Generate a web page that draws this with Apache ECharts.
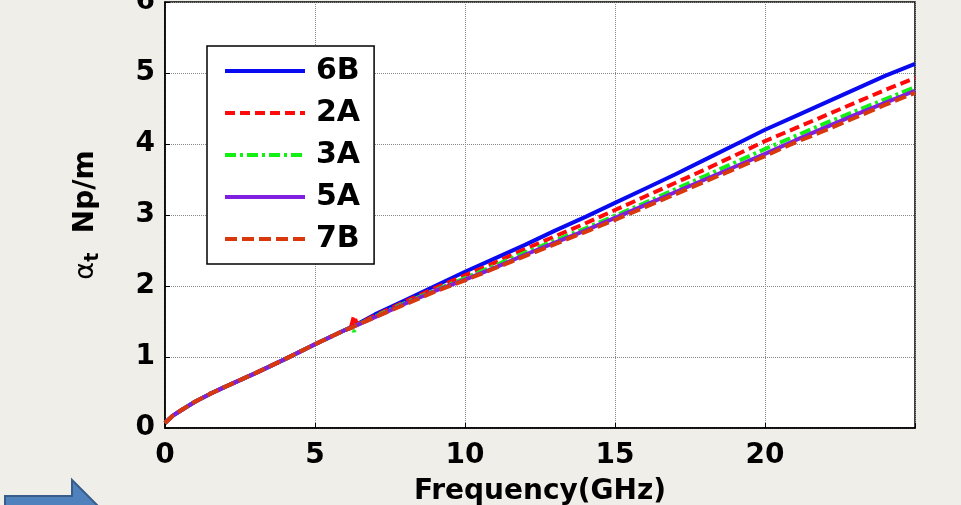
<!DOCTYPE html>
<html>
<head>
<meta charset="utf-8">
<script src="https://cdn.jsdelivr.net/npm/echarts@6/dist/echarts.min.js"></script>
<style>
  html, body { margin: 0; padding: 0; background: #efeee9; }
  #chart { width: 961px; height: 505px; }
</style>
</head>
<body>
<div id="chart"></div>
<script>
  // frequency points (GHz)
  var freq = [0, 0.25, 0.5, 1, 1.5, 2, 3, 4, 5, 6, 6.2, 6.3, 6.4, 7, 8, 9, 10, 11, 12, 13, 14, 15, 16, 17, 18, 19, 20, 21, 22, 23, 24, 25];
  // attenuation alpha_t (Np/m)
  var s6B = [0.07, 0.17, 0.24, 0.37, 0.48, 0.58, 0.77, 0.97, 1.18, 1.38, 1.42, 1.44, 1.46, 1.6, 1.8, 2.0, 2.2, 2.39, 2.58, 2.78, 2.97, 3.17, 3.37, 3.57, 3.78, 3.99, 4.2, 4.39, 4.58, 4.77, 4.96, 5.13];
  var s2A = [0.07, 0.17, 0.24, 0.37, 0.48, 0.58, 0.77, 0.97, 1.18, 1.38, 1.42, 1.58, 1.46, 1.58, 1.78, 1.97, 2.15, 2.33, 2.52, 2.7, 2.88, 3.07, 3.26, 3.45, 3.64, 3.84, 4.04, 4.22, 4.4, 4.58, 4.76, 4.93];
  var s3A = [0.07, 0.17, 0.24, 0.37, 0.48, 0.58, 0.77, 0.97, 1.18, 1.38, 1.41, 1.36, 1.45, 1.57, 1.76, 1.94, 2.11, 2.29, 2.47, 2.64, 2.81, 2.99, 3.17, 3.36, 3.55, 3.74, 3.93, 4.11, 4.29, 4.46, 4.63, 4.8];
  var s5A = [0.07, 0.17, 0.24, 0.37, 0.48, 0.58, 0.77, 0.97, 1.18, 1.38, 1.41, 1.43, 1.45, 1.56, 1.75, 1.93, 2.09, 2.26, 2.44, 2.61, 2.78, 2.96, 3.14, 3.32, 3.5, 3.68, 3.86, 4.05, 4.23, 4.41, 4.58, 4.75];
  var s7B = [0.07, 0.17, 0.24, 0.37, 0.48, 0.58, 0.77, 0.97, 1.18, 1.38, 1.41, 1.43, 1.45, 1.56, 1.74, 1.92, 2.08, 2.25, 2.42, 2.59, 2.76, 2.93, 3.11, 3.29, 3.47, 3.65, 3.83, 4.02, 4.19, 4.37, 4.55, 4.72];
  var xTicks = [0, 5, 10, 15, 20];

  var names = ['6B', '2A', '3A', '5A', '7B'];
  var values = [s6B, s2A, s3A, s5A, s7B];
  var colors = ['#0a0af0', '#ff0a0a', '#14f014', '#7f1fe0', '#d8380c'];
  var dashes = ['solid', [10, 5], [11, 4, 3, 4], 'solid', [12, 5]];

  var font = 'DejaVu Sans';
  var chart = echarts.init(document.getElementById('chart'));

  var series = [];
  for (var i = 0; i < names.length; i++) {
    var pts = [];
    for (var j = 0; j < freq.length; j++) {
      pts.push([freq[j], values[i][j]]);
    }
    series.push({
      name: names[i],
      type: 'line',
      data: pts,
      showSymbol: false,
      symbol: 'none',
      animation: false,
      color: colors[i],
      lineStyle: { width: 4, type: dashes[i], color: colors[i] }
    });
  }

  var option = {
    backgroundColor: '#efeee9',
    grid: {
      left: 165, right: 46, top: 2, bottom: 77,
      outerBoundsMode: 'none',
      show: true, backgroundColor: '#fff', borderColor: '#000', borderWidth: 1.5
    },
    legend: {
      orient: 'vertical',
      left: 207, top: 46,
      backgroundColor: '#fff',
      borderColor: '#000',
      borderWidth: 1.5,
      borderRadius: 0,
      padding: [10, 14, 10, 16],
      itemWidth: 80,
      itemHeight: 6,
      itemGap: 12,
      lineStyle: { width: 4 },
      itemStyle: { opacity: 0 },
      textStyle: { fontFamily: font, fontWeight: 'bold', fontSize: 30, color: '#000', padding: [0, 0, 0, 6] },
      data: names
    },
    xAxis: {
      type: 'value',
      min: 0, max: 25, interval: 5,
      name: 'Frequency(GHz)',
      nameLocation: 'middle',
      nameGap: 50,
      nameTextStyle: { fontFamily: font, fontWeight: 'bold', fontSize: 28, color: '#000' },
      axisLine: { lineStyle: { color: '#000', width: 1.5 } },
      axisTick: { inside: true, length: 5, lineStyle: { color: '#000' } },
      axisLabel: {
        margin: 14, fontFamily: font, fontWeight: 'bold', fontSize: 28, color: '#000',
        formatter: function (v) { return xTicks.indexOf(v) >= 0 ? String(v) : ''; }
      },
      splitLine: { show: true, lineStyle: { color: '#888', type: 'dotted', width: 1 } }
    },
    yAxis: {
      type: 'value',
      min: 0, max: 6, interval: 1,
      name: '{g|α}{sub|t}{a|  Np/m}',
      nameLocation: 'middle',
      nameGap: 62,
      nameRotate: 90,
      nameTextStyle: {
        rich: {
          a: { fontFamily: font, fontWeight: 'bold', fontSize: 28, color: '#000' },
          g: { fontFamily: font, fontWeight: 'normal', fontSize: 27, color: '#000', padding: [0, 0, 0, 0] },
          sub: { fontFamily: font, fontWeight: 'bold', fontSize: 19, color: '#000', padding: [16, 0, 0, 0] }
        }
      },
      axisLine: { show: true, lineStyle: { color: '#000', width: 1.5 } },
      axisTick: { show: true, inside: true, length: 5, lineStyle: { color: '#000' } },
      axisLabel: { margin: 10, fontFamily: font, fontWeight: 'bold', fontSize: 28, color: '#000' },
      splitLine: { show: true, lineStyle: { color: '#888', type: 'dotted', width: 1 } }
    },
    graphic: [{
      type: 'polygon',
      shape: { points: [[5, 496], [72, 496], [72, 480], [104, 512], [72, 544], [72, 528], [5, 528]] },
      style: { fill: '#4f81bd', stroke: '#385d8a', lineWidth: 2 }
    }],
    series: series
  };
  chart.setOption(option);
</script>
</body>
</html>
